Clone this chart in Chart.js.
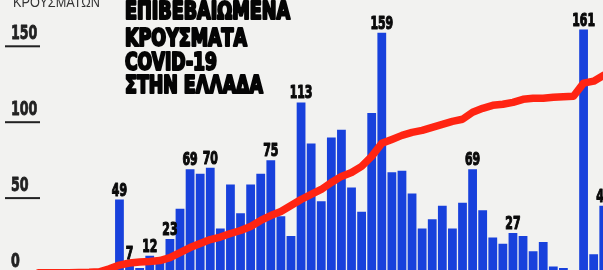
<!DOCTYPE html>
<html>
<head>
<meta charset="utf-8">
<script src="https://cdn.jsdelivr.net/npm/chart.js@4"></script>
<style>
  html, body { margin: 0; padding: 0; width: 603px; height: 270px; overflow: hidden; background: #f2f2f0; }
  canvas { display: block; }
</style>
</head>
<body>
<canvas id="covid_chart" width="620" height="274"></canvas>
<script>
// one bar per day
const days = ['1','2','3','4','5','6','7','8','9','10','11','12','13','14','15','16','17','18','19','20',
  '21','22','23','24','25','26','27','28','29','30','31','32','33','34','35','36','37','38','39','40',
  '41','42','43','44','45','46','47','48','49','50','51','52','53','54','55','56','57'];

const newCases = [0, 0, 0, 0, 0, 0, 0, 0,
  49, 7, 4, 12, 8, 23, 43, 69, 66, 70, 30, 59, 40, 59, 66, 75, 38, 25, 113, 86, 48, 90,
  95, 57, 41, 106, 159, 67, 68, 53, 30, 36, 45, 30, 47, 69, 42, 24, 20, 27, 25, 15,
  21, 5, 4, 1, 161, 13, 45];

const totalCases = [15, 15, 16, 16, 18, 20, 26, 60,
  104, 128, 139, 145, 157, 192, 250, 309, 356, 402, 432, 473, 508, 555, 625, 683, 730, 800,
  870, 929, 987, 1069, 1140, 1186, 1257, 1374, 1526, 1572, 1619, 1654, 1678, 1713, 1748, 1783,
  1807, 1889, 1935, 1970, 1982, 2005, 2040, 2052, 2052, 2064, 2070, 2076, 2229, 2252, 2322];

const barLabels = [null, null, null, null, null, null, null, null,
  '49', '7', null, '12', null, '23', null, '69', null, '70', null, null, null, null, null, '75',
  null, null, '113', null, null, null, null, null, null, null, '159', null, null, null, null, null,
  null, null, null, '69', null, null, null, '27', null, null, null, null, null, null, '161', null, '45'];

const yTicks = [0, 50, 100, 150];
const titleLines = ['ΕΠΙΒΕΒΑΙΩΜΕΝΑ', 'ΚΡΟΥΣΜΑΤΑ', 'COVID-19', 'ΣΤΗΝ ΕΛΛΑΔΑ'];
const axisTitle = 'ΚΡΟΥΣΜΑΤΩΝ';

const NARROW = "'Liberation Sans Narrow', 'DejaVu Sans Condensed', 'Liberation Sans', sans-serif";

// draw text squeezed/stretched to a given width
const fitText = (ctx, text, x, y, width, font, stroke) => {
  ctx.save();
  ctx.font = font;
  const w = ctx.measureText(text).width;
  ctx.translate(x, y);
  ctx.scale(width / w, 1);
  ctx.fillText(text, 0, 0);
  if (stroke) {
    ctx.lineWidth = stroke;
    ctx.lineJoin = 'round';
    ctx.strokeText(text, 0, 0);
  }
  ctx.restore();
};

const paperPlugin = {
  id: 'paper',
  beforeDraw: (chart) => {
    const ctx = chart.ctx;
    ctx.save();
    ctx.fillStyle = '#f2f2f0';
    ctx.fillRect(0, 0, chart.width, chart.height);
    ctx.restore();
  }
};

const decorPlugin = {
  id: 'decor',
  afterDatasetsDraw: (chart) => {
    const ctx = chart.ctx;
    const yScale = chart.scales.y;
    ctx.save();
    ctx.fillStyle = '#111';
    ctx.strokeStyle = '#111';
    ctx.textBaseline = 'alphabetic';

    // left axis: number above a short rule
    yTicks.forEach(v => {
      const py = yScale.getPixelForValue(v);
      ctx.fillStyle = '#222';
      ctx.strokeStyle = '#222';
      ctx.fillRect(5, py - 1, 35, 2);
      const txt = String(v);
      fitText(ctx, txt, 11, py - 7, 8.8 * txt.length, 'bold 20px ' + NARROW, 0.8);
    });

    // cropped axis heading at the very top
    ctx.fillStyle = '#333';
    fitText(ctx, axisTitle, 13, 7, 87, '14px "Liberation Sans", Arial, sans-serif');

    // headline
    ctx.fillStyle = '#050505';
    ctx.strokeStyle = '#050505';
    const lineBase = [18.5, 46, 70, 93];
    const lineWidth = [165, 122, 92, 138];
    titleLines.forEach((t, i) => {
      fitText(ctx, t, 125, lineBase[i], lineWidth[i], 'bold 24px ' + NARROW, 2.2);
    });

    // values over the bars
    ctx.fillStyle = '#0a0a0a';
    ctx.strokeStyle = '#0a0a0a';
    const meta = chart.getDatasetMeta(1);
    meta.data.forEach((bar, i) => {
      const txt = barLabels[i];
      if (!txt) return;
      const w = 7.6 * txt.length;
      fitText(ctx, txt, bar.x - w / 2, bar.y - 4, w, 'bold 17px ' + NARROW, 1.1);
    });
    ctx.restore();
  }
};

new Chart(document.getElementById('covid_chart'), {
  type: 'bar',
  data: {
    labels: days,
    datasets: [{
      type: 'line',
      data: totalCases,
      yAxisID: 'y2',
      borderColor: '#ff2412',
      borderWidth: 7.5,
      pointRadius: 0,
      tension: 0,
      borderJoinStyle: 'round',
      borderCapStyle: 'round',
      order: 0
    }, {
      type: 'bar',
      data: newCases,
      yAxisID: 'y',
      backgroundColor: '#1841dc',
      barPercentage: 0.87,
      categoryPercentage: 1,
      order: 1
    }]
  },
  options: {
    responsive: false,
    animation: false,
    devicePixelRatio: 1,
    layout: {
      padding: { left: 33.7, right: 11.2, top: 0, bottom: 0 }
    },
    scales: {
      x: { display: false, offset: true },
      y: { display: false, min: 0, max: 180.5 },
      y2: { display: false, min: 0, max: 3200 }
    },
    plugins: {
      legend: { display: false },
      tooltip: { enabled: false }
    }
  },
  plugins: [paperPlugin, decorPlugin]
});
</script>
</body>
</html>
